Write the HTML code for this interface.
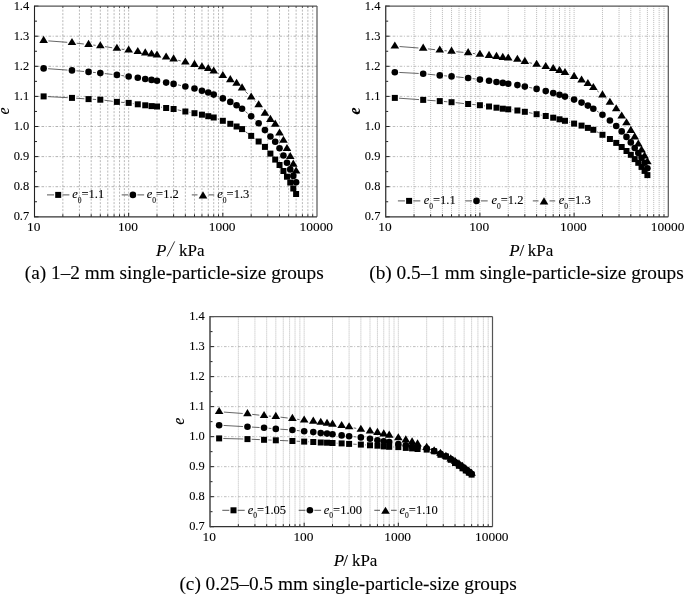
<!DOCTYPE html>
<html><head><meta charset="utf-8"><title>e-P curves</title>
<style>html,body{margin:0;padding:0;background:#fff;} svg{display:block;filter:grayscale(1)} text{stroke:#000;stroke-width:0.1px;}</style></head>
<body>
<svg width="685" height="595" viewBox="0 0 685 595">
<rect width="685" height="595" fill="#fff"/>
<path d="M62.85 6.10V216.80M79.43 6.10V216.80M91.19 6.10V216.80M100.32 6.10V216.80M107.78 6.10V216.80M114.08 6.10V216.80M119.54 6.10V216.80M124.36 6.10V216.80M128.67 6.10V216.80M157.01 6.10V216.80M173.60 6.10V216.80M185.36 6.10V216.80M194.49 6.10V216.80M201.94 6.10V216.80M208.25 6.10V216.80M213.71 6.10V216.80M218.52 6.10V216.80M222.83 6.10V216.80M251.18 6.10V216.80M267.76 6.10V216.80M279.53 6.10V216.80M288.65 6.10V216.80M296.11 6.10V216.80M302.41 6.10V216.80M307.87 6.10V216.80M312.69 6.10V216.80" stroke="#a8a8a8" stroke-width="0.8" stroke-dasharray="2 1.5" fill="none"/>
<path d="M34.50 186.70H317.00M34.50 156.60H317.00M34.50 126.50H317.00M34.50 96.40H317.00M34.50 66.30H317.00M34.50 36.20H317.00" stroke="#a0a0a0" stroke-width="0.8" stroke-dasharray="2.6 1.6 1 1.8" fill="none"/>
<path d="M34.50 216.80h4M34.50 201.75h2.5M34.50 186.70h4M34.50 171.65h2.5M34.50 156.60h4M34.50 141.55h2.5M34.50 126.50h4M34.50 111.45h2.5M34.50 96.40h4M34.50 81.35h2.5M34.50 66.30h4M34.50 51.25h2.5M34.50 36.20h4M34.50 21.15h2.5M34.50 6.10h4M62.85 216.80v-2.5M62.85 6.10v1.50M79.43 216.80v-2.5M79.43 6.10v1.50M91.19 216.80v-2.5M91.19 6.10v1.50M100.32 216.80v-2.5M100.32 6.10v1.50M107.78 216.80v-2.5M107.78 6.10v1.50M114.08 216.80v-2.5M114.08 6.10v1.50M119.54 216.80v-2.5M119.54 6.10v1.50M124.36 216.80v-2.5M124.36 6.10v1.50M128.67 216.80v-4M128.67 6.10v2.40M157.01 216.80v-2.5M157.01 6.10v1.50M173.60 216.80v-2.5M173.60 6.10v1.50M185.36 216.80v-2.5M185.36 6.10v1.50M194.49 216.80v-2.5M194.49 6.10v1.50M201.94 216.80v-2.5M201.94 6.10v1.50M208.25 216.80v-2.5M208.25 6.10v1.50M213.71 216.80v-2.5M213.71 6.10v1.50M218.52 216.80v-2.5M218.52 6.10v1.50M222.83 216.80v-4M222.83 6.10v2.40M251.18 216.80v-2.5M251.18 6.10v1.50M267.76 216.80v-2.5M267.76 6.10v1.50M279.53 216.80v-2.5M279.53 6.10v1.50M288.65 216.80v-2.5M288.65 6.10v1.50M296.11 216.80v-2.5M296.11 6.10v1.50M302.41 216.80v-2.5M302.41 6.10v1.50M307.87 216.80v-2.5M307.87 6.10v1.50M312.69 216.80v-2.5M312.69 6.10v1.50" stroke="#222" stroke-width="1" fill="none"/>
<path d="M34.50 6.10H317.00" stroke="#555" stroke-width="1.1"/>
<path d="M317.00 6.10V216.80" stroke="#555" stroke-width="1.2"/>
<path d="M34.50 216.80H317.00" stroke="#333" stroke-width="1.2"/>
<path d="M34.50 5.60V217.40" stroke="#222" stroke-width="1.1"/>
<path d="M47.82 96.62L67.78 97.68M76.16 98.20L84.37 98.80M92.75 99.31L96.13 99.49M104.48 100.25L112.74 101.35M121.09 102.26L124.48 102.54M132.82 103.54L133.64 103.66M161.16 107.18L161.99 107.32M177.70 109.87L181.25 110.63M189.49 112.27L190.36 112.43M217.66 118.93L218.88 119.37M245.42 131.61L247.81 133.39M254.54 138.42L255.28 138.98M48.11 68.72L67.48 70.08M76.45 70.81L84.07 71.49M93.03 72.36L95.84 72.64M104.79 73.59L112.43 74.41M121.36 75.51L124.21 75.89M177.99 84.87L180.97 85.53M217.86 96.33L218.68 96.67M245.51 111.58L247.72 113.42M254.48 119.36L255.33 120.14M48.36 40.89L67.24 42.32M76.69 43.21L83.83 44.01M93.27 45.07L95.60 45.34M105.01 46.62L112.21 47.75M121.60 49.16L123.97 49.50M178.18 60.26L180.77 60.95M217.96 73.25L218.58 73.56M245.43 91.43L247.81 93.79M254.46 100.57L255.35 101.50M261.46 108.76L262.12 109.66" fill="none" stroke="#333" stroke-width="0.75"/>
<g fill="#000"><rect x="40.63" y="93.40" width="6.0" height="6.0"/><rect x="68.97" y="94.90" width="6.0" height="6.0"/><rect x="85.55" y="96.10" width="6.0" height="6.0"/><rect x="97.32" y="96.70" width="6.0" height="6.0"/><rect x="113.90" y="98.90" width="6.0" height="6.0"/><rect x="125.67" y="99.90" width="6.0" height="6.0"/><rect x="134.79" y="101.30" width="6.0" height="6.0"/><rect x="142.25" y="102.30" width="6.0" height="6.0"/><rect x="148.55" y="103.10" width="6.0" height="6.0"/><rect x="154.01" y="103.50" width="6.0" height="6.0"/><rect x="163.14" y="105.00" width="6.0" height="6.0"/><rect x="170.60" y="106.00" width="6.0" height="6.0"/><rect x="182.36" y="108.50" width="6.0" height="6.0"/><rect x="191.49" y="110.20" width="6.0" height="6.0"/><rect x="198.94" y="111.70" width="6.0" height="6.0"/><rect x="205.25" y="113.20" width="6.0" height="6.0"/><rect x="210.71" y="114.50" width="6.0" height="6.0"/><rect x="219.83" y="117.80" width="6.0" height="6.0"/><rect x="227.29" y="120.80" width="6.0" height="6.0"/><rect x="233.59" y="123.50" width="6.0" height="6.0"/><rect x="239.05" y="126.10" width="6.0" height="6.0"/><rect x="248.18" y="132.90" width="6.0" height="6.0"/><rect x="255.64" y="138.50" width="6.0" height="6.0"/><rect x="261.94" y="143.90" width="6.0" height="6.0"/><rect x="267.40" y="150.60" width="6.0" height="6.0"/><rect x="272.22" y="156.60" width="6.0" height="6.0"/><rect x="276.53" y="162.00" width="6.0" height="6.0"/><rect x="280.43" y="168.00" width="6.0" height="6.0"/><rect x="283.98" y="173.70" width="6.0" height="6.0"/><rect x="287.26" y="179.50" width="6.0" height="6.0"/><rect x="290.29" y="185.50" width="6.0" height="6.0"/><rect x="293.11" y="191.00" width="6.0" height="6.0"/></g>
<g fill="#000"><circle cx="43.63" cy="68.40" r="3.3"/><circle cx="71.97" cy="70.40" r="3.3"/><circle cx="88.55" cy="71.90" r="3.3"/><circle cx="100.32" cy="73.10" r="3.3"/><circle cx="116.90" cy="74.90" r="3.3"/><circle cx="128.67" cy="76.50" r="3.3"/><circle cx="137.79" cy="77.80" r="3.3"/><circle cx="145.25" cy="79.00" r="3.3"/><circle cx="151.55" cy="79.90" r="3.3"/><circle cx="157.01" cy="80.80" r="3.3"/><circle cx="166.14" cy="82.60" r="3.3"/><circle cx="173.60" cy="83.90" r="3.3"/><circle cx="185.36" cy="86.50" r="3.3"/><circle cx="194.49" cy="88.50" r="3.3"/><circle cx="201.94" cy="90.70" r="3.3"/><circle cx="208.25" cy="92.50" r="3.3"/><circle cx="213.71" cy="94.60" r="3.3"/><circle cx="222.83" cy="98.40" r="3.3"/><circle cx="230.29" cy="101.90" r="3.3"/><circle cx="236.59" cy="105.20" r="3.3"/><circle cx="242.05" cy="108.70" r="3.3"/><circle cx="251.18" cy="116.30" r="3.3"/><circle cx="258.64" cy="123.20" r="3.3"/><circle cx="264.94" cy="130.10" r="3.3"/><circle cx="270.40" cy="136.50" r="3.3"/><circle cx="275.22" cy="141.70" r="3.3"/><circle cx="279.53" cy="148.30" r="3.3"/><circle cx="283.43" cy="155.50" r="3.3"/><circle cx="286.98" cy="162.80" r="3.3"/><circle cx="290.26" cy="169.40" r="3.3"/><circle cx="293.29" cy="175.90" r="3.3"/><circle cx="296.11" cy="182.20" r="3.3"/></g>
<g fill="#000"><path d="M43.63 35.80L47.93 42.90L39.33 42.90Z"/><path d="M71.97 37.95L76.27 45.05L67.67 45.05Z"/><path d="M88.55 39.80L92.85 46.90L84.25 46.90Z"/><path d="M100.32 41.15L104.62 48.25L96.02 48.25Z"/><path d="M116.90 43.75L121.20 50.85L112.60 50.85Z"/><path d="M128.67 45.45L132.97 52.55L124.37 52.55Z"/><path d="M137.79 46.90L142.09 54.00L133.49 54.00Z"/><path d="M145.25 48.30L149.55 55.40L140.95 55.40Z"/><path d="M151.55 49.45L155.85 56.55L147.25 56.55Z"/><path d="M157.01 50.45L161.31 57.55L152.71 57.55Z"/><path d="M166.14 52.50L170.44 59.60L161.84 59.60Z"/><path d="M173.60 54.30L177.90 61.40L169.30 61.40Z"/><path d="M185.36 57.45L189.66 64.55L181.06 64.55Z"/><path d="M194.49 59.85L198.79 66.95L190.19 66.95Z"/><path d="M201.94 62.20L206.24 69.30L197.64 69.30Z"/><path d="M208.25 63.95L212.55 71.05L203.95 71.05Z"/><path d="M213.71 66.40L218.01 73.50L209.41 73.50Z"/><path d="M222.83 70.95L227.13 78.05L218.53 78.05Z"/><path d="M230.29 75.10L234.59 82.20L225.99 82.20Z"/><path d="M236.59 78.65L240.89 85.75L232.29 85.75Z"/><path d="M242.05 83.35L246.35 90.45L237.75 90.45Z"/><path d="M251.18 92.40L255.48 99.50L246.88 99.50Z"/><path d="M258.64 100.20L262.94 107.30L254.34 107.30Z"/><path d="M264.94 108.75L269.24 115.85L260.64 115.85Z"/><path d="M270.40 114.85L274.70 121.95L266.10 121.95Z"/><path d="M275.22 119.60L279.52 126.70L270.92 126.70Z"/><path d="M279.53 128.40L283.83 135.50L275.23 135.50Z"/><path d="M283.43 135.65L287.73 142.75L279.13 142.75Z"/><path d="M286.98 143.95L291.28 151.05L282.68 151.05Z"/><path d="M290.26 151.95L294.56 159.05L285.96 159.05Z"/><path d="M293.29 159.55L297.59 166.65L288.99 166.65Z"/><path d="M296.11 166.45L300.41 173.55L291.81 173.55Z"/></g>
<g style="font-family:'Liberation Serif',serif;font-size:13.4px" fill="#000"><text transform="translate(29.20,220.40) scale(0.93,1)" text-anchor="end">0.7</text><text transform="translate(29.20,190.30) scale(0.93,1)" text-anchor="end">0.8</text><text transform="translate(29.20,160.20) scale(0.93,1)" text-anchor="end">0.9</text><text transform="translate(29.20,130.10) scale(0.93,1)" text-anchor="end">1.0</text><text transform="translate(29.20,100.00) scale(0.93,1)" text-anchor="end">1.1</text><text transform="translate(29.20,69.90) scale(0.93,1)" text-anchor="end">1.2</text><text transform="translate(29.20,39.80) scale(0.93,1)" text-anchor="end">1.3</text><text transform="translate(29.20,9.70) scale(0.93,1)" text-anchor="end">1.4</text><text transform="translate(33.80,231.30) scale(1.0,1)" text-anchor="middle">10</text><text transform="translate(127.97,231.30) scale(1.0,1)" text-anchor="middle">100</text><text transform="translate(222.13,231.30) scale(1.0,1)" text-anchor="middle">1000</text><text transform="translate(316.30,231.30) scale(1.0,1)" text-anchor="middle">10000</text></g>
<path d="M47.00 194.90H54.00M62.40 194.90H69.40" stroke="#444" stroke-width="0.9"/><g fill="#000"><rect x="55.20" y="191.90" width="6.0" height="6.0"/></g><text x="72.20" y="198.20" style="font-family:'Liberation Serif',serif;font-size:12.5px" fill="#000"><tspan font-style="italic">e</tspan><tspan dy="4.3" font-size="7.5">0</tspan><tspan dy="-4.3">=</tspan>1.1</text><path d="M121.70 194.90H128.40M137.40 194.90H144.10" stroke="#444" stroke-width="0.9"/><g fill="#000"><circle cx="132.90" cy="194.90" r="3.3"/></g><text x="146.80" y="198.20" style="font-family:'Liberation Serif',serif;font-size:12.5px" fill="#000"><tspan font-style="italic">e</tspan><tspan dy="4.3" font-size="7.5">0</tspan><tspan dy="-4.3">=</tspan>1.2</text><path d="M191.80 194.90H197.50M208.50 194.90H214.20" stroke="#444" stroke-width="0.9"/><g fill="#000"><path d="M203.00 191.35L207.30 198.45L198.70 198.45Z"/></g><text x="217.30" y="198.20" style="font-family:'Liberation Serif',serif;font-size:12.5px" fill="#000"><tspan font-style="italic">e</tspan><tspan dy="4.3" font-size="7.5">0</tspan><tspan dy="-4.3">=</tspan>1.3</text>
<text transform="translate(8.70,111.00) rotate(-90)" text-anchor="middle" style="font-family:'Liberation Serif',serif;font-size:16px;font-style:italic;font-weight:normal" fill="#000">e</text>
<text x="156.10" y="255.60" style="font-family:'Liberation Serif',serif;font-size:17px;font-style:italic" fill="#000">P</text>
<path d="M167.10 256.40L174.70 241.40" stroke="#222" stroke-width="0.9"/>
<text x="179.00" y="255.60" style="font-family:'Liberation Serif',serif;font-size:17px" fill="#000">kPa</text>
<text transform="translate(24.80,278.60) scale(1,1.03)" style="font-family:'Liberation Serif',serif;font-size:19.3px" fill="#000">(a) 1–2 mm single-particle-size groups</text>
<path d="M414.06 6.10V216.80M430.64 6.10V216.80M442.41 6.10V216.80M451.54 6.10V216.80M459.00 6.10V216.80M465.31 6.10V216.80M470.77 6.10V216.80M475.59 6.10V216.80M479.90 6.10V216.80M508.26 6.10V216.80M524.84 6.10V216.80M536.61 6.10V216.80M545.74 6.10V216.80M553.20 6.10V216.80M559.51 6.10V216.80M564.97 6.10V216.80M569.79 6.10V216.80M574.10 6.10V216.80M602.46 6.10V216.80M619.04 6.10V216.80M630.81 6.10V216.80M639.94 6.10V216.80M647.40 6.10V216.80M653.71 6.10V216.80M659.17 6.10V216.80M663.99 6.10V216.80" stroke="#a8a8a8" stroke-width="0.8" stroke-dasharray="1 1" fill="none"/>
<path d="M385.70 186.70H668.30M385.70 156.60H668.30M385.70 126.50H668.30M385.70 96.40H668.30M385.70 66.30H668.30M385.70 36.20H668.30" stroke="#adadad" stroke-width="0.8" stroke-dasharray="2.6 1.6 1 1.8" fill="none"/>
<path d="M385.70 216.80h4M385.70 201.75h2.5M385.70 186.70h4M385.70 171.65h2.5M385.70 156.60h4M385.70 141.55h2.5M385.70 126.50h4M385.70 111.45h2.5M385.70 96.40h4M385.70 81.35h2.5M385.70 66.30h4M385.70 51.25h2.5M385.70 36.20h4M385.70 21.15h2.5M385.70 6.10h4M414.06 216.80v-2.5M430.64 216.80v-2.5M442.41 216.80v-2.5M451.54 216.80v-2.5M459.00 216.80v-2.5M465.31 216.80v-2.5M470.77 216.80v-2.5M475.59 216.80v-2.5M479.90 216.80v-4M508.26 216.80v-2.5M524.84 216.80v-2.5M536.61 216.80v-2.5M545.74 216.80v-2.5M553.20 216.80v-2.5M559.51 216.80v-2.5M564.97 216.80v-2.5M569.79 216.80v-2.5M574.10 216.80v-4M602.46 216.80v-2.5M619.04 216.80v-2.5M630.81 216.80v-2.5M639.94 216.80v-2.5M647.40 216.80v-2.5M653.71 216.80v-2.5M659.17 216.80v-2.5M663.99 216.80v-2.5" stroke="#222" stroke-width="1" fill="none"/>
<path d="M385.70 6.10H668.30" stroke="#555" stroke-width="1.1"/>
<path d="M668.30 6.10V216.80" stroke="#555" stroke-width="1.2"/>
<path d="M385.70 216.80H668.30" stroke="#333" stroke-width="1.2"/>
<path d="M385.70 5.60V217.40" stroke="#444" stroke-width="1.4"/>
<path d="M399.02 98.20L419.00 99.60M427.38 100.20L435.58 100.80M443.96 101.49L447.36 101.81M455.72 102.65L463.96 103.55M472.31 104.43L475.72 104.77M484.06 105.79L484.87 105.91M512.42 109.85L513.22 109.95M528.96 112.64L532.50 113.36M540.73 115.01L541.62 115.19M568.99 122.03L570.08 122.37M597.01 131.82L598.77 132.78M399.32 72.44L418.69 73.46M427.66 74.16L435.30 74.94M444.26 75.78L447.06 76.02M456.02 76.83L463.65 77.57M472.59 78.61L475.44 78.99M529.26 87.46L532.20 88.04M569.25 98.00L569.82 98.20M597.09 111.17L598.70 112.23M399.57 46.54L418.45 47.97M427.91 48.87L435.05 49.69M444.50 50.66L446.81 50.86M456.27 51.71L463.40 52.36M472.84 53.42L475.19 53.74M529.46 62.70L532.00 63.32M597.01 90.64L598.78 92.08M605.84 98.42L606.53 99.10" fill="none" stroke="#333" stroke-width="0.75"/>
<g fill="#000"><rect x="391.83" y="94.90" width="6.0" height="6.0"/><rect x="420.19" y="96.90" width="6.0" height="6.0"/><rect x="436.77" y="98.10" width="6.0" height="6.0"/><rect x="448.54" y="99.20" width="6.0" height="6.0"/><rect x="465.13" y="101.00" width="6.0" height="6.0"/><rect x="476.90" y="102.20" width="6.0" height="6.0"/><rect x="486.03" y="103.50" width="6.0" height="6.0"/><rect x="493.49" y="104.70" width="6.0" height="6.0"/><rect x="499.79" y="105.70" width="6.0" height="6.0"/><rect x="505.26" y="106.30" width="6.0" height="6.0"/><rect x="514.39" y="107.50" width="6.0" height="6.0"/><rect x="521.84" y="108.80" width="6.0" height="6.0"/><rect x="533.61" y="111.20" width="6.0" height="6.0"/><rect x="542.74" y="113.00" width="6.0" height="6.0"/><rect x="550.20" y="114.70" width="6.0" height="6.0"/><rect x="556.51" y="116.30" width="6.0" height="6.0"/><rect x="561.97" y="117.80" width="6.0" height="6.0"/><rect x="571.10" y="120.60" width="6.0" height="6.0"/><rect x="578.56" y="122.60" width="6.0" height="6.0"/><rect x="584.87" y="124.90" width="6.0" height="6.0"/><rect x="590.33" y="126.80" width="6.0" height="6.0"/><rect x="599.46" y="131.80" width="6.0" height="6.0"/><rect x="606.92" y="136.00" width="6.0" height="6.0"/><rect x="613.22" y="139.90" width="6.0" height="6.0"/><rect x="618.69" y="144.00" width="6.0" height="6.0"/><rect x="623.50" y="148.00" width="6.0" height="6.0"/><rect x="627.81" y="151.80" width="6.0" height="6.0"/><rect x="631.71" y="156.10" width="6.0" height="6.0"/><rect x="635.27" y="159.80" width="6.0" height="6.0"/><rect x="638.55" y="163.90" width="6.0" height="6.0"/><rect x="641.58" y="167.90" width="6.0" height="6.0"/><rect x="644.40" y="172.10" width="6.0" height="6.0"/></g>
<g fill="#000"><circle cx="394.83" cy="72.20" r="3.3"/><circle cx="423.19" cy="73.70" r="3.3"/><circle cx="439.77" cy="75.40" r="3.3"/><circle cx="451.54" cy="76.40" r="3.3"/><circle cx="468.13" cy="78.00" r="3.3"/><circle cx="479.90" cy="79.60" r="3.3"/><circle cx="489.03" cy="80.80" r="3.3"/><circle cx="496.49" cy="82.00" r="3.3"/><circle cx="502.79" cy="82.90" r="3.3"/><circle cx="508.26" cy="83.70" r="3.3"/><circle cx="517.39" cy="85.10" r="3.3"/><circle cx="524.84" cy="86.60" r="3.3"/><circle cx="536.61" cy="88.90" r="3.3"/><circle cx="545.74" cy="91.10" r="3.3"/><circle cx="553.20" cy="93.10" r="3.3"/><circle cx="559.51" cy="94.80" r="3.3"/><circle cx="564.97" cy="96.60" r="3.3"/><circle cx="574.10" cy="99.60" r="3.3"/><circle cx="581.56" cy="102.60" r="3.3"/><circle cx="587.87" cy="105.60" r="3.3"/><circle cx="593.33" cy="108.70" r="3.3"/><circle cx="602.46" cy="114.70" r="3.3"/><circle cx="609.92" cy="120.50" r="3.3"/><circle cx="616.22" cy="126.00" r="3.3"/><circle cx="621.69" cy="131.40" r="3.3"/><circle cx="626.50" cy="136.90" r="3.3"/><circle cx="630.81" cy="142.40" r="3.3"/><circle cx="634.71" cy="148.00" r="3.3"/><circle cx="638.27" cy="153.00" r="3.3"/><circle cx="641.55" cy="157.80" r="3.3"/><circle cx="644.58" cy="162.80" r="3.3"/><circle cx="647.40" cy="168.20" r="3.3"/></g>
<g fill="#000"><path d="M394.83 41.45L399.13 48.55L390.53 48.55Z"/><path d="M423.19 43.60L427.49 50.70L418.89 50.70Z"/><path d="M439.77 45.50L444.07 52.60L435.47 52.60Z"/><path d="M451.54 46.55L455.84 53.65L447.24 53.65Z"/><path d="M468.13 48.05L472.43 55.15L463.83 55.15Z"/><path d="M479.90 49.65L484.20 56.75L475.60 56.75Z"/><path d="M489.03 50.80L493.33 57.90L484.73 57.90Z"/><path d="M496.49 51.85L500.79 58.95L492.19 58.95Z"/><path d="M502.79 52.80L507.09 59.90L498.49 59.90Z"/><path d="M508.26 53.40L512.56 60.50L503.96 60.50Z"/><path d="M517.39 54.75L521.69 61.85L513.09 61.85Z"/><path d="M524.84 56.85L529.14 63.95L520.54 63.95Z"/><path d="M536.61 59.70L540.91 66.80L532.31 66.80Z"/><path d="M545.74 61.95L550.04 69.05L541.44 69.05Z"/><path d="M553.20 64.00L557.50 71.10L548.90 71.10Z"/><path d="M559.51 65.95L563.81 73.05L555.21 73.05Z"/><path d="M564.97 67.90L569.27 75.00L560.67 75.00Z"/><path d="M574.10 71.85L578.40 78.95L569.80 78.95Z"/><path d="M581.56 75.50L585.86 82.60L577.26 82.60Z"/><path d="M587.87 78.95L592.17 86.05L583.57 86.05Z"/><path d="M593.33 82.90L597.63 90.00L589.03 90.00Z"/><path d="M602.46 90.35L606.76 97.45L598.16 97.45Z"/><path d="M609.92 97.70L614.22 104.80L605.62 104.80Z"/><path d="M616.22 104.15L620.52 111.25L611.92 111.25Z"/><path d="M621.69 111.45L625.99 118.55L617.39 118.55Z"/><path d="M626.50 118.25L630.80 125.35L622.20 125.35Z"/><path d="M630.81 125.80L635.11 132.90L626.51 132.90Z"/><path d="M634.71 132.35L639.01 139.45L630.41 139.45Z"/><path d="M638.27 139.45L642.57 146.55L633.97 146.55Z"/><path d="M641.55 145.45L645.85 152.55L637.25 152.55Z"/><path d="M644.58 151.45L648.88 158.55L640.28 158.55Z"/><path d="M647.40 157.25L651.70 164.35L643.10 164.35Z"/></g>
<g style="font-family:'Liberation Serif',serif;font-size:13.4px" fill="#000"><text transform="translate(380.40,220.40) scale(0.93,1)" text-anchor="end">0.7</text><text transform="translate(380.40,190.30) scale(0.93,1)" text-anchor="end">0.8</text><text transform="translate(380.40,160.20) scale(0.93,1)" text-anchor="end">0.9</text><text transform="translate(380.40,130.10) scale(0.93,1)" text-anchor="end">1.0</text><text transform="translate(380.40,100.00) scale(0.93,1)" text-anchor="end">1.1</text><text transform="translate(380.40,69.90) scale(0.93,1)" text-anchor="end">1.2</text><text transform="translate(380.40,39.80) scale(0.93,1)" text-anchor="end">1.3</text><text transform="translate(380.40,9.70) scale(0.93,1)" text-anchor="end">1.4</text><text transform="translate(385.00,231.30) scale(1.0,1)" text-anchor="middle">10</text><text transform="translate(479.20,231.30) scale(1.0,1)" text-anchor="middle">100</text><text transform="translate(573.40,231.30) scale(1.0,1)" text-anchor="middle">1000</text><text transform="translate(667.60,231.30) scale(1.0,1)" text-anchor="middle">10000</text></g>
<path d="M397.90 200.90H404.90M413.30 200.90H420.30" stroke="#444" stroke-width="0.9"/><g fill="#000"><rect x="406.10" y="197.90" width="6.0" height="6.0"/></g><text x="423.70" y="204.20" style="font-family:'Liberation Serif',serif;font-size:12.5px" fill="#000"><tspan font-style="italic">e</tspan><tspan dy="4.3" font-size="7.5">0</tspan><tspan dy="-4.3">=</tspan>1.1</text><path d="M465.30 200.90H472.00M481.00 200.90H487.70" stroke="#444" stroke-width="0.9"/><g fill="#000"><circle cx="476.50" cy="200.90" r="3.3"/></g><text x="491.40" y="204.20" style="font-family:'Liberation Serif',serif;font-size:12.5px" fill="#000"><tspan font-style="italic">e</tspan><tspan dy="4.3" font-size="7.5">0</tspan><tspan dy="-4.3">=</tspan>1.2</text><path d="M532.80 200.90H538.50M549.50 200.90H555.20" stroke="#444" stroke-width="0.9"/><g fill="#000"><path d="M544.00 197.35L548.30 204.45L539.70 204.45Z"/></g><text x="558.70" y="204.20" style="font-family:'Liberation Serif',serif;font-size:12.5px" fill="#000"><tspan font-style="italic">e</tspan><tspan dy="4.3" font-size="7.5">0</tspan><tspan dy="-4.3">=</tspan>1.3</text>
<text transform="translate(359.90,111.00) rotate(-90)" text-anchor="middle" style="font-family:'Liberation Serif',serif;font-size:16px;font-style:italic;font-weight:bold" fill="#000">e</text>
<text x="509.30" y="255.80" style="font-family:'Liberation Serif',serif;font-size:17px;font-style:italic" fill="#000">P</text>
<text x="519.60" y="255.80" style="font-family:'Liberation Serif',serif;font-size:17px" fill="#000">/</text>
<text x="527.70" y="255.80" style="font-family:'Liberation Serif',serif;font-size:17px" fill="#000">kPa</text>
<text transform="translate(369.30,278.60) scale(1,1.03)" style="font-family:'Liberation Serif',serif;font-size:19.3px" fill="#000">(b) 0.5–1 mm single-particle-size groups</text>
<path d="M238.35 316.60V526.70M254.93 316.60V526.70M266.69 316.60V526.70M275.82 316.60V526.70M283.28 316.60V526.70M289.58 316.60V526.70M295.04 316.60V526.70M299.86 316.60V526.70M304.17 316.60V526.70M332.51 316.60V526.70M349.10 316.60V526.70M360.86 316.60V526.70M369.99 316.60V526.70M377.44 316.60V526.70M383.75 316.60V526.70M389.21 316.60V526.70M394.02 316.60V526.70M398.33 316.60V526.70M426.68 316.60V526.70M443.26 316.60V526.70M455.03 316.60V526.70M464.15 316.60V526.70M471.61 316.60V526.70M477.91 316.60V526.70M483.37 316.60V526.70M488.19 316.60V526.70" stroke="#a8a8a8" stroke-width="0.8" stroke-dasharray="1 1" fill="none"/>
<path d="M210.00 496.69H492.50M210.00 466.67H492.50M210.00 436.66H492.50M210.00 406.64H492.50M210.00 376.63H492.50M210.00 346.61H492.50" stroke="#adadad" stroke-width="0.8" stroke-dasharray="2.6 1.6 1 1.8" fill="none"/>
<path d="M210.00 526.70h4M210.00 511.69h2.5M210.00 496.69h4M210.00 481.68h2.5M210.00 466.67h4M210.00 451.66h2.5M210.00 436.66h4M210.00 421.65h2.5M210.00 406.64h4M210.00 391.64h2.5M210.00 376.63h4M210.00 361.62h2.5M210.00 346.61h4M210.00 331.61h2.5M210.00 316.60h4M238.35 526.70v-2.5M254.93 526.70v-2.5M266.69 526.70v-2.5M275.82 526.70v-2.5M283.28 526.70v-2.5M289.58 526.70v-2.5M295.04 526.70v-2.5M299.86 526.70v-2.5M304.17 526.70v-4M332.51 526.70v-2.5M349.10 526.70v-2.5M360.86 526.70v-2.5M369.99 526.70v-2.5M377.44 526.70v-2.5M383.75 526.70v-2.5M389.21 526.70v-2.5M394.02 526.70v-2.5M398.33 526.70v-4M426.68 526.70v-2.5M443.26 526.70v-2.5M455.03 526.70v-2.5M464.15 526.70v-2.5M471.61 526.70v-2.5M477.91 526.70v-2.5M483.37 526.70v-2.5M488.19 526.70v-2.5" stroke="#222" stroke-width="1" fill="none"/>
<path d="M210.00 316.60H492.50" stroke="#555" stroke-width="1.1"/>
<path d="M492.50 316.60V526.70" stroke="#555" stroke-width="1.2"/>
<path d="M210.00 526.70H492.50" stroke="#333" stroke-width="1.2"/>
<path d="M210.00 316.10V527.30" stroke="#444" stroke-width="1.5"/>
<path d="M223.32 438.50L243.27 439.00M251.67 439.28L259.86 439.62M268.25 439.98L271.62 440.12M280.02 440.48L288.21 440.82M296.60 441.21L299.97 441.39M308.36 441.78L309.10 441.82M336.71 443.18L337.44 443.22M353.29 444.15L356.67 444.35M365.05 444.92L365.80 444.98M393.41 446.94L394.14 446.96M421.75 449.28L422.49 449.32M223.62 425.45L242.98 426.55M251.96 427.07L259.56 427.53M268.54 428.22L271.34 428.48M280.31 429.20L287.91 429.70M296.87 430.49L299.69 430.81M353.57 436.66L356.38 436.94M223.86 412.08L242.74 413.48M252.19 414.36L259.33 415.16M268.79 416.05L271.08 416.22M280.54 417.15L287.69 418.01M297.11 419.22L299.46 419.54M353.74 427.87L356.21 428.40" fill="none" stroke="#333" stroke-width="0.75"/>
<g fill="#000"><rect x="216.13" y="435.40" width="6.0" height="6.0"/><rect x="244.47" y="436.10" width="6.0" height="6.0"/><rect x="261.05" y="436.80" width="6.0" height="6.0"/><rect x="272.82" y="437.30" width="6.0" height="6.0"/><rect x="289.40" y="438.00" width="6.0" height="6.0"/><rect x="301.17" y="438.60" width="6.0" height="6.0"/><rect x="310.29" y="439.00" width="6.0" height="6.0"/><rect x="317.75" y="439.50" width="6.0" height="6.0"/><rect x="324.05" y="439.70" width="6.0" height="6.0"/><rect x="329.51" y="440.00" width="6.0" height="6.0"/><rect x="338.64" y="440.40" width="6.0" height="6.0"/><rect x="346.10" y="440.90" width="6.0" height="6.0"/><rect x="357.86" y="441.60" width="6.0" height="6.0"/><rect x="366.99" y="442.30" width="6.0" height="6.0"/><rect x="374.44" y="442.70" width="6.0" height="6.0"/><rect x="380.75" y="443.40" width="6.0" height="6.0"/><rect x="386.21" y="443.80" width="6.0" height="6.0"/><rect x="395.33" y="444.10" width="6.0" height="6.0"/><rect x="402.79" y="444.90" width="6.0" height="6.0"/><rect x="409.09" y="445.40" width="6.0" height="6.0"/><rect x="414.55" y="446.00" width="6.0" height="6.0"/><rect x="423.68" y="446.60" width="6.0" height="6.0"/><rect x="431.14" y="448.30" width="6.0" height="6.0"/><rect x="437.44" y="451.80" width="6.0" height="6.0"/><rect x="442.90" y="453.50" width="6.0" height="6.0"/><rect x="447.72" y="456.80" width="6.0" height="6.0"/><rect x="452.03" y="460.00" width="6.0" height="6.0"/><rect x="455.93" y="462.80" width="6.0" height="6.0"/><rect x="459.48" y="465.30" width="6.0" height="6.0"/><rect x="462.76" y="467.50" width="6.0" height="6.0"/><rect x="465.79" y="469.70" width="6.0" height="6.0"/><rect x="468.61" y="471.60" width="6.0" height="6.0"/></g>
<g fill="#000"><circle cx="219.13" cy="425.20" r="3.3"/><circle cx="247.47" cy="426.80" r="3.3"/><circle cx="264.05" cy="427.80" r="3.3"/><circle cx="275.82" cy="428.90" r="3.3"/><circle cx="292.40" cy="430.00" r="3.3"/><circle cx="304.17" cy="431.30" r="3.3"/><circle cx="313.29" cy="432.10" r="3.3"/><circle cx="320.75" cy="433.10" r="3.3"/><circle cx="327.05" cy="433.60" r="3.3"/><circle cx="332.51" cy="434.20" r="3.3"/><circle cx="341.64" cy="435.40" r="3.3"/><circle cx="349.10" cy="436.20" r="3.3"/><circle cx="360.86" cy="437.40" r="3.3"/><circle cx="369.99" cy="438.70" r="3.3"/><circle cx="377.44" cy="440.20" r="3.3"/><circle cx="383.75" cy="441.20" r="3.3"/><circle cx="389.21" cy="442.00" r="3.3"/><circle cx="398.33" cy="444.00" r="3.3"/><circle cx="405.79" cy="445.30" r="3.3"/><circle cx="412.09" cy="446.60" r="3.3"/><circle cx="417.55" cy="447.60" r="3.3"/><circle cx="426.68" cy="448.50" r="3.3"/><circle cx="434.14" cy="451.00" r="3.3"/><circle cx="440.44" cy="453.80" r="3.3"/><circle cx="445.90" cy="456.20" r="3.3"/><circle cx="450.72" cy="459.00" r="3.3"/><circle cx="455.03" cy="462.00" r="3.3"/><circle cx="458.93" cy="464.50" r="3.3"/><circle cx="462.48" cy="467.00" r="3.3"/><circle cx="465.76" cy="469.50" r="3.3"/><circle cx="468.79" cy="471.80" r="3.3"/><circle cx="471.61" cy="474.00" r="3.3"/></g>
<g fill="#000"><path d="M219.13 407.00L223.43 414.10L214.83 414.10Z"/><path d="M247.47 409.10L251.77 416.20L243.17 416.20Z"/><path d="M264.05 410.95L268.35 418.05L259.75 418.05Z"/><path d="M275.82 411.85L280.12 418.95L271.52 418.95Z"/><path d="M292.40 413.85L296.70 420.95L288.10 420.95Z"/><path d="M304.17 415.45L308.47 422.55L299.87 422.55Z"/><path d="M313.29 416.60L317.59 423.70L308.99 423.70Z"/><path d="M320.75 417.75L325.05 424.85L316.45 424.85Z"/><path d="M327.05 418.65L331.35 425.75L322.75 425.75Z"/><path d="M332.51 419.55L336.81 426.65L328.21 426.65Z"/><path d="M341.64 421.00L345.94 428.10L337.34 428.10Z"/><path d="M349.10 422.15L353.40 429.25L344.80 429.25Z"/><path d="M360.86 424.65L365.16 431.75L356.56 431.75Z"/><path d="M369.99 426.45L374.29 433.55L365.69 433.55Z"/><path d="M377.44 427.85L381.74 434.95L373.14 434.95Z"/><path d="M383.75 429.35L388.05 436.45L379.45 436.45Z"/><path d="M389.21 430.55L393.51 437.65L384.91 437.65Z"/><path d="M398.33 433.25L402.63 440.35L394.03 440.35Z"/><path d="M405.79 435.35L410.09 442.45L401.49 442.45Z"/><path d="M412.09 437.35L416.39 444.45L407.79 444.45Z"/><path d="M417.55 439.35L421.85 446.45L413.25 446.45Z"/><path d="M426.68 442.85L430.98 449.95L422.38 449.95Z"/><path d="M434.14 446.15L438.44 453.25L429.84 453.25Z"/><path d="M440.44 448.75L444.74 455.85L436.14 455.85Z"/><path d="M445.90 451.75L450.20 458.85L441.60 458.85Z"/><path d="M450.72 454.35L455.02 461.45L446.42 461.45Z"/><path d="M455.03 456.75L459.33 463.85L450.73 463.85Z"/><path d="M458.93 459.25L463.23 466.35L454.63 466.35Z"/><path d="M462.48 461.75L466.78 468.85L458.18 468.85Z"/><path d="M465.76 464.25L470.06 471.35L461.46 471.35Z"/><path d="M468.79 466.45L473.09 473.55L464.49 473.55Z"/><path d="M471.61 468.75L475.91 475.85L467.31 475.85Z"/></g>
<g style="font-family:'Liberation Serif',serif;font-size:13.4px" fill="#000"><text transform="translate(204.70,530.30) scale(0.93,1)" text-anchor="end">0.7</text><text transform="translate(204.70,500.29) scale(0.93,1)" text-anchor="end">0.8</text><text transform="translate(204.70,470.27) scale(0.93,1)" text-anchor="end">0.9</text><text transform="translate(204.70,440.26) scale(0.93,1)" text-anchor="end">1.0</text><text transform="translate(204.70,410.24) scale(0.93,1)" text-anchor="end">1.1</text><text transform="translate(204.70,380.23) scale(0.93,1)" text-anchor="end">1.2</text><text transform="translate(204.70,350.21) scale(0.93,1)" text-anchor="end">1.3</text><text transform="translate(204.70,320.20) scale(0.93,1)" text-anchor="end">1.4</text><text transform="translate(209.30,541.20) scale(1.0,1)" text-anchor="middle">10</text><text transform="translate(303.47,541.20) scale(1.0,1)" text-anchor="middle">100</text><text transform="translate(397.63,541.20) scale(1.0,1)" text-anchor="middle">1000</text><text transform="translate(491.80,541.20) scale(1.0,1)" text-anchor="middle">10000</text></g>
<path d="M222.30 510.30H229.30M237.70 510.30H244.70" stroke="#444" stroke-width="0.9"/><g fill="#000"><rect x="230.50" y="507.30" width="6.0" height="6.0"/></g><text x="247.80" y="513.60" style="font-family:'Liberation Serif',serif;font-size:12.5px" fill="#000"><tspan font-style="italic">e</tspan><tspan dy="4.3" font-size="7.5">0</tspan><tspan dy="-4.3">=</tspan>1.05</text><path d="M298.70 510.30H305.40M314.40 510.30H321.10" stroke="#444" stroke-width="0.9"/><g fill="#000"><circle cx="309.90" cy="510.30" r="3.3"/></g><text x="323.80" y="513.60" style="font-family:'Liberation Serif',serif;font-size:12.5px" fill="#000"><tspan font-style="italic">e</tspan><tspan dy="4.3" font-size="7.5">0</tspan><tspan dy="-4.3">=</tspan>1.00</text><path d="M374.30 510.30H380.00M391.00 510.30H396.70" stroke="#444" stroke-width="0.9"/><g fill="#000"><path d="M385.50 506.75L389.80 513.85L381.20 513.85Z"/></g><text x="399.50" y="513.60" style="font-family:'Liberation Serif',serif;font-size:12.5px" fill="#000"><tspan font-style="italic">e</tspan><tspan dy="4.3" font-size="7.5">0</tspan><tspan dy="-4.3">=</tspan>1.10</text>
<text transform="translate(183.90,421.20) rotate(-90)" text-anchor="middle" style="font-family:'Liberation Serif',serif;font-size:16px;font-style:italic;font-weight:normal" fill="#000">e</text>
<text x="333.80" y="566.00" style="font-family:'Liberation Serif',serif;font-size:17px;font-style:italic" fill="#000">P</text>
<text x="343.20" y="566.00" style="font-family:'Liberation Serif',serif;font-size:17px" fill="#000">/</text>
<text x="351.90" y="566.00" style="font-family:'Liberation Serif',serif;font-size:17px" fill="#000">kPa</text>
<text transform="translate(179.40,589.80) scale(1,1.0)" style="font-family:'Liberation Serif',serif;font-size:19.3px" fill="#000">(c) 0.25–0.5 mm single-particle-size groups</text>
</svg>
</body></html>
